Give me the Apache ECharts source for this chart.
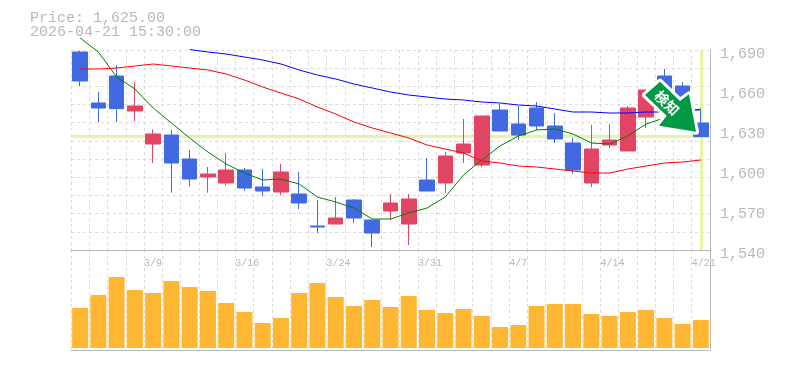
<!DOCTYPE html>
<html><head><meta charset="utf-8">
<style>html,body{margin:0;padding:0;background:#fff}#c{width:785px;height:370px}</style>
<script src="https://cdn.jsdelivr.net/npm/echarts@6/dist/echarts.min.js"></script>
</head><body><div id="c"></div>
<script>
const categories = ['3/3','3/4','3/5','3/6','3/9','3/10','3/11','3/12','3/13','3/16','3/17','3/18','3/19','3/23','3/24','3/25','3/26','3/27','3/30','3/31','4/1','4/2','4/3','4/6','4/7','4/8','4/9','4/10','4/13','4/14','4/15','4/16','4/17','4/20','4/21'];
const tickLabels = ['3/9','3/16','3/24','3/31','4/7','4/14','4/21'];
// open, close, low, high
const candles = [
[1688.5,1666.75,1663,1689.25],[1650.25,1646.5,1636,1658.5],[1670.5,1646,1636,1678.75],[1644.25,1648,1636.75,1666],
[1619.5,1627,1605.25,1630.4],[1626.25,1605.25,1583,1630],[1608.25,1593.25,1587.5,1615],[1594.75,1597,1583,1602.25],
[1590.25,1600,1588.25,1612.75],[1600,1586.5,1584.5,1601.5],[1587.25,1584.25,1580.5,1600.75],[1583.5,1598.5,1581.25,1604.5],
[1582,1575.25,1570.75,1598.5],[1558,1557.25,1552.75,1577.5],[1559.5,1564,1559.5,1579.75],[1577.5,1564,1560.25,1578.25],
[1562.5,1552.75,1542.25,1562.5],[1569.25,1575.25,1562.5,1582],[1559.5,1578.25,1543.75,1582],[1592.5,1584.25,1584.25,1609],
[1590.25,1610.5,1582.75,1613.5],[1612.75,1619.5,1605.25,1638.25],[1603.75,1640.5,1602.25,1640.5],[1645,1629.25,1629.25,1649.5],
[1634.5,1626.25,1622.5,1648],[1646.5,1633,1630,1651],[1633,1623.25,1620.25,1642.75],[1620.25,1600,1597,1624],
[1590.25,1615.75,1587.25,1633.75],[1618.75,1622.5,1616.5,1634.5],[1614.25,1646.5,1614.25,1648],[1639.75,1660,1631.5,1660],
[1670.5,1656.25,1652.5,1675.75],[1663,1654.75,1652.5,1666],[1635.25,1625,1625,1644.25]];
const maShort = [1699,1688.5,1669.75,1660.75,1646.5,1635.25,1624,1613.5,1604.5,1597.75,1592.5,1593.25,1589.5,1579.75,1576,1571.5,1563.25,1563.25,1567.75,1571.5,1579.75,1596.25,1607.5,1618,1625.5,1630,1630.75,1627,1620.25,1619.5,1625.5,1634.5,1639,1643.5,1645.75];
const maMid = [1675.75,1675.75,1676.5,1678,1679.5,1678,1676.5,1675,1672,1667.5,1662.25,1657.75,1653.25,1647.25,1642,1636,1631.5,1627.75,1624,1618.75,1615.75,1612.75,1606.75,1605.25,1603,1602.25,1600.75,1599.25,1597.75,1597.75,1600.75,1603,1605.25,1606,1607.5];
const maLong = [null,null,null,null,null,null,1690.375,1688.5,1687,1684.75,1682.5,1679.5,1675,1671.25,1668.25,1664.5,1661.5,1658.5,1656.25,1654.75,1653.25,1652.5,1651,1650.25,1648.75,1648,1645.75,1643.5,1643.5,1642.75,1642.75,1643.5,1643.5,1645,1645];
const volumes = [40,53,71,58,55,67,61,57,45,36,25,30,55,65,51,42,48,41,52,38,35,39,32,21,23,42,44,44,34,32,36,38,30,24,28];
const priceText = 'Price: 1,625.00';
const timeText = '2026-04-21 15:30:00';
const signalText = '検知';

const FONT = '"Liberation Mono", monospace', GREY = '#b8b8b8', DASH = '#dcdcdc';
const dash = {show:true, interval:0, lineStyle:{color:DASH, width:1, type:[3,3]}};
const arrow = [[660,81.7],[680,101],[689,94.3],[696,131.7],[659,125.7],[666.7,115.7],[645,95]];
const chart = echarts.init(document.getElementById('c'), null, {renderer:'canvas'});
const lineS = (name,data,color)=>({name,type:'line',data,xAxisIndex:0,yAxisIndex:0,showSymbol:false,symbol:'none',clip:false,z:3,lineStyle:{color,width:1},connectNulls:false});
chart.setOption({
  animation:false,
  grid:[{left:71,right:75,top:50,height:200},{left:71,right:75,top:250,height:100}],
  xAxis:[
    {type:'category',gridIndex:0,position:'bottom',data:categories,boundaryGap:true,axisLine:{show:false},axisTick:{show:false},axisLabel:{show:false},splitLine:{show:false}},
    {type:'category',gridIndex:0,position:'bottom',offset:0,data:categories.concat(['']),boundaryGap:false,axisLine:{show:true,onZero:false,lineStyle:{color:GREY,width:1}},axisTick:{show:false},
      axisLabel:{show:true,interval:0,margin:8,align:'left',color:GREY,fontFamily:FONT,fontSize:10,showMinLabel:true,showMaxLabel:true,hideOverlap:false,formatter:v=>tickLabels.includes(v)?v:''},splitLine:dash},
    {type:'category',gridIndex:1,position:'bottom',data:categories,boundaryGap:true,axisLine:{show:true,onZero:false,lineStyle:{color:GREY,width:1}},axisTick:{show:false},axisLabel:{show:false},splitLine:dash}
  ],
  yAxis:[
    {type:'value',gridIndex:0,position:'right',min:1540,max:1690,interval:30,axisLine:{show:true,onZero:false,lineStyle:{color:GREY,width:1}},axisTick:{show:false},splitLine:{show:false},
      axisLabel:{color:GREY,fontFamily:FONT,fontSize:15,margin:10,align:'left',verticalAlign:'top',lineHeight:9,formatter:v=>String(v).replace(/\B(?=(\d{3})+$)/g,',')}},
    {type:'value',gridIndex:0,position:'left',min:0,max:11,interval:1,axisLine:{show:false},axisTick:{show:false},axisLabel:{show:false},splitLine:{show:true,lineStyle:{color:DASH,width:1,type:[3,3]}}},
    {type:'value',gridIndex:1,position:'right',min:-2,max:98,axisLine:{show:true,onZero:false,lineStyle:{color:GREY,width:1}},axisTick:{show:false},axisLabel:{show:false},splitLine:{show:false}}
  ],
  series:[
    {name:'Price',type:'candlestick',xAxisIndex:0,yAxisIndex:0,data:candles,barWidth:15,z:2,clip:false,
      itemStyle:{color:'#e24463',color0:'#4169e1',borderColor:'#e24463',borderColor0:'#4169e1',borderWidth:1},
      markLine:{silent:true,symbol:'none',z:1,label:{show:false},lineStyle:{color:'#e4f5a8',width:3,type:'solid'},animation:false,
        data:[{yAxis:1625},{xAxis:categories[categories.length-1]}]}},
    lineS('Short',maShort,'#008000'),lineS('Mid',maMid,'#ff0000'),lineS('Long',maLong,'#0000ff'),
    {name:'Volume',type:'bar',xAxisIndex:2,yAxisIndex:2,data:volumes,barWidth:16,itemStyle:{color:'#ffb733'}}
  ],
  graphic:[
    {type:'text',left:30,top:11,style:{text:priceText,font:'15px '+FONT,fill:GREY}},
    {type:'text',left:30,top:25,style:{text:timeText,font:'15px '+FONT,fill:GREY}},
    {type:'polygon',z:49,shape:{points:arrow},style:{fill:'#fff',stroke:'#fff',lineWidth:6,lineJoin:'round'}},
    {type:'polygon',z:50,shape:{points:arrow},style:{fill:'#009944'}},
    {type:'text',z:51,x:667,y:103,rotation:-Math.PI/4,style:{text:signalText,font:'bold 14px "Noto Sans CJK JP"',fill:'#fff',align:'center',verticalAlign:'middle'}}
  ]
});
</script></body></html>
